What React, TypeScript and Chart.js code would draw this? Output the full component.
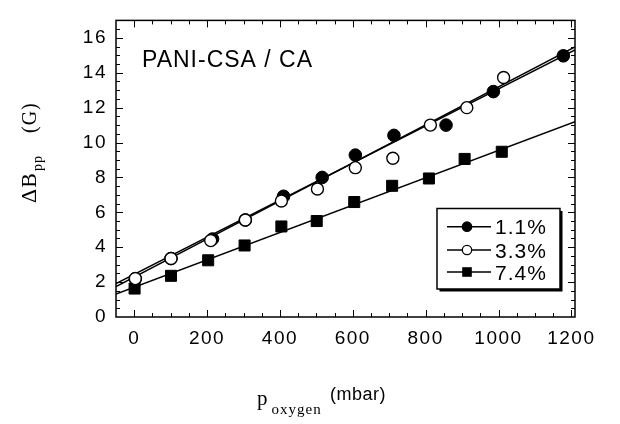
import React, { useEffect, useRef } from 'react';
import { Chart, registerables } from 'chart.js';

Chart.register(...registerables);

// Tick labels
const xTickValues = [0, 200, 400, 600, 800, 1000, 1200];
const yTickValues = [0, 2, 4, 6, 8, 10, 12, 14, 16];

// Series
const seriesLabels = ['1.1%', '3.3%', '7.4%'];

const x11 = [3, 101, 215, 305, 410, 516, 607, 713, 856, 986, 1178];
const y11 = [2.2, 3.35, 4.47, 5.56, 6.92, 8.0, 9.28, 10.41, 11.0, 12.92, 14.97];

const x33 = [3, 101, 210, 305, 404, 503, 607, 710, 813, 913, 1014];
const y33 = [2.2, 3.35, 4.38, 5.56, 6.65, 7.34, 8.56, 9.1, 11.0, 12.0, 13.73];

const x74 = [1, 101, 203, 303, 404, 501, 604, 708, 809, 907, 1009];
const y74 = [1.63, 2.36, 3.25, 4.1, 5.19, 5.5, 6.59, 7.52, 7.94, 9.06, 9.47];

// Linear fits (end points read at the frame edges)
const fitX = [-50, 1210];
const fit11 = [1.74, 15.48];
const fit33 = [1.92, 15.31];
const fit74 = [1.32, 11.19];

const SANS = '"Liberation Sans", Arial, Helvetica, sans-serif';
const SERIF = '"Liberation Serif", "Times New Roman", Times, serif';

const pts = (xs: number[], ys: number[]) => xs.map((x, i) => ({ x, y: ys[i] }));

const decorPlugin = {
  id: 'decor',
  beforeDraw(chart: any) {
    const ctx = chart.ctx;
    ctx.save();
    ctx.fillStyle = '#fff';
    ctx.fillRect(0, 0, chart.width, chart.height);
    ctx.restore();
    ctx.letterSpacing = '1.5px';
  },
  afterDraw(chart: any) {
    const ctx = chart.ctx as CanvasRenderingContext2D;
    const { left, right, top, bottom } = chart.chartArea;
    const xs = chart.scales.x;
    const ys = chart.scales.y;
    ctx.save();
    ctx.strokeStyle = '#000';
    ctx.fillStyle = '#000';

    // frame
    ctx.lineWidth = 1.5;
    ctx.strokeRect(left, top, right - left, bottom - top);

    // inward ticks
    ctx.lineWidth = 1;
    ctx.beginPath();
    for (let v = 0; v <= 1200; v += 50) {
      const major = v % 200 === 0;
      const len = major ? 7 : 4;
      const px = Math.round(xs.getPixelForValue(v)) + 0.5;
      ctx.moveTo(px, bottom);
      ctx.lineTo(px, bottom - len);
      ctx.moveTo(px, top);
      ctx.lineTo(px, top + len);
    }
    for (let v = 0.5; v < 17; v += 0.5) {
      const major = v % 2 === 0;
      const len = major ? 7 : 4;
      const py = Math.round(ys.getPixelForValue(v)) + 0.5;
      ctx.moveTo(left, py);
      ctx.lineTo(left + len, py);
      ctx.moveTo(right, py);
      ctx.lineTo(right - len, py);
    }
    ctx.stroke();

    // inner title
    ctx.textAlign = 'left';
    ctx.textBaseline = 'alphabetic';
    (ctx as any).letterSpacing = '1px';
    ctx.font = `23px ${SANS}`;
    ctx.fillText('PANI-CSA / CA', left + 26, top + 47);

    // legend
    const bx = right - 138;
    const by = bottom - 108.5;
    const bw = 123;
    const bh = 80.5;
    ctx.fillStyle = '#000';
    ctx.fillRect(bx + 2.5, by + 2.5, bw, bh);
    ctx.fillStyle = '#fff';
    ctx.fillRect(bx, by, bw, bh);
    ctx.lineWidth = 1.5;
    ctx.strokeRect(bx, by, bw, bh);
    const rows = [by + 18.2, by + 41.5, by + 63.5];
    ctx.font = `21px ${SANS}`;
    seriesLabels.forEach((lab, i) => {
      const ry = rows[i];
      ctx.strokeStyle = '#000';
      ctx.lineWidth = 1.5;
      ctx.beginPath();
      ctx.moveTo(bx + 10, ry);
      ctx.lineTo(bx + 54, ry);
      ctx.stroke();
      const mx = bx + 30;
      if (i === 2) {
        ctx.fillStyle = '#000';
        ctx.fillRect(mx - 4.8, ry - 4.8, 9.6, 9.6);
      } else {
        ctx.beginPath();
        ctx.arc(mx, ry, 4.7, 0, Math.PI * 2);
        ctx.fillStyle = i === 0 ? '#000' : '#fff';
        ctx.fill();
        ctx.lineWidth = 1.3;
        ctx.stroke();
      }
      ctx.fillStyle = '#000';
      ctx.fillText(lab, bx + 58, ry + 7.5);
    });

    // x axis title
    ctx.fillStyle = '#000';
    (ctx as any).letterSpacing = '1px';
    ctx.font = `21px ${SERIF}`;
    ctx.fillText('p', 257, 405);
    ctx.font = `15px ${SERIF}`;
    ctx.fillText('oxygen', 271.5, 413.5);
    (ctx as any).letterSpacing = '0.5px';
    ctx.font = `18px ${SANS}`;
    ctx.fillText('(mbar)', 330, 400);

    // y axis title (rotated)
    ctx.translate(36, 203);
    ctx.rotate(-Math.PI / 2);
    (ctx as any).letterSpacing = '1px';
    ctx.font = `22px ${SERIF}`;
    ctx.fillText('\u0394B', 0, 0);
    ctx.font = `14px ${SERIF}`;
    ctx.fillText('pp', 32, 6);
    ctx.font = `20px ${SERIF}`;
    ctx.fillText('(G)', 70, 0);
    ctx.restore();
  },
};

export default function App() {
  const ref = useRef<HTMLCanvasElement>(null);
  useEffect(() => {
    const canvas = ref.current!;
    const lineDs = (d: number[]) => ({
      type: 'line' as const,
      label: '',
      data: pts(fitX, d),
      borderColor: '#000',
      borderWidth: 1.5,
      pointRadius: 0,
      fill: false,
      showLine: true,
      order: 5,
    });
    const chart = new Chart(canvas, {
      type: 'scatter',
      data: {
        datasets: [
          {
            label: seriesLabels[1],
            data: pts(x33, y33),
            pointStyle: 'circle',
            pointRadius: 6,
            backgroundColor: '#fff',
            borderColor: '#000',
            borderWidth: 1.4,
            order: 0,
          },
          {
            label: seriesLabels[2],
            data: pts(x74, y74),
            pointStyle: 'rect',
            pointRadius: 7.8,
            backgroundColor: '#000',
            borderColor: '#000',
            borderWidth: 1,
            order: 0,
          },
          {
            label: seriesLabels[0],
            data: pts(x11, y11),
            pointStyle: 'circle',
            pointRadius: 6.3,
            backgroundColor: '#000',
            borderColor: '#000',
            borderWidth: 1,
            order: 1,
          },
          lineDs(fit11) as any,
          lineDs(fit33) as any,
          lineDs(fit74) as any,
        ],
      },
      options: {
        animation: false,
        responsive: false,
        layout: { padding: { top: 5, right: 45, bottom: 0, left: 0 } },
        plugins: { legend: { display: false }, tooltip: { enabled: false } },
        scales: {
          x: {
            type: 'linear',
            min: -50,
            max: 1210,
            afterBuildTicks: (s: any) => {
              s.ticks = xTickValues.map((v) => ({ value: v }));
            },
            afterFit: (s: any) => {
              s.height = 107;
            },
            grid: { display: false, drawTicks: false },
            border: { display: false },
            ticks: {
              color: '#000',
              font: { family: SANS, size: 19 },
              padding: 10,
              maxRotation: 0,
              autoSkip: false,
              callback: (v: any) => String(v),
            },
          },
          y: {
            type: 'linear',
            min: 0,
            max: 17,
            afterBuildTicks: (s: any) => {
              s.ticks = yTickValues.map((v) => ({ value: v }));
            },
            afterFit: (s: any) => {
              s.width = 116;
            },
            grid: { display: false, drawTicks: false },
            border: { display: false },
            ticks: {
              color: '#000',
              font: { family: SANS, size: 19 },
              padding: 9,
              autoSkip: false,
              callback: (v: any) => String(v),
            },
          },
        },
      },
      plugins: [decorPlugin],
    });
    return () => chart.destroy();
  }, []);
  return (
    <div style={{ position: 'fixed', left: 0, top: 0, width: 620, height: 424, background: '#fff' }}>
      <canvas ref={ref} width={620} height={424} />
    </div>
  );
}
